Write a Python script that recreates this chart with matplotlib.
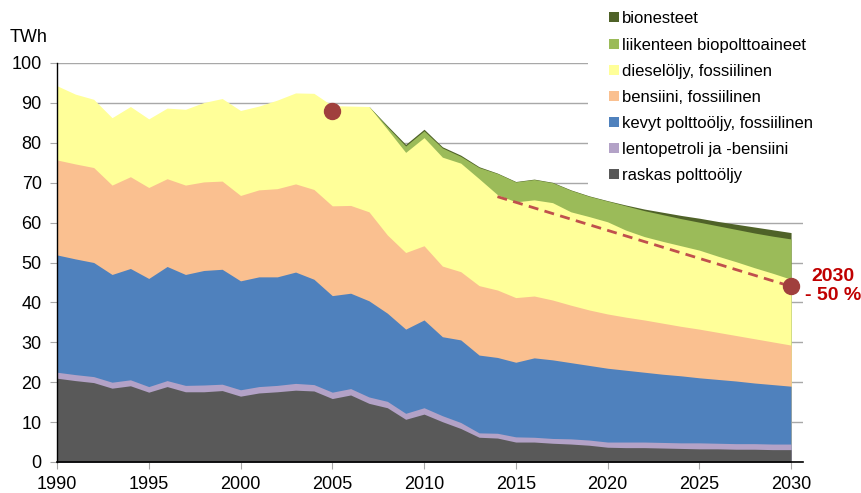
import numpy as np
import matplotlib
matplotlib.use("Agg")
import matplotlib.pyplot as plt
from matplotlib.patches import Patch, Rectangle

plt.rcParams['font.family'] = ['Liberation Sans', 'DejaVu Sans']

years = list(range(1990, 2031))

raskas = [21.0, 20.4, 19.9, 18.5, 19.1, 17.5, 18.9, 17.6, 17.6, 17.9,
          16.5, 17.3, 17.6, 18.0, 17.8, 15.9, 16.8, 14.7, 13.6, 10.7,
          12.0, 10.1, 8.4, 6.2, 6.0, 5.0, 5.0, 4.7, 4.5, 4.2,
          3.7, 3.6, 3.6, 3.5, 3.4, 3.3, 3.3, 3.2, 3.2, 3.1, 3.1]
lento = [1.5, 1.5, 1.5, 1.5, 1.5, 1.4, 1.5, 1.6, 1.7, 1.6,
         1.6, 1.6, 1.6, 1.7, 1.6, 1.6, 1.6, 1.6, 1.6, 1.5,
         1.6, 1.5, 1.5, 1.1, 1.2, 1.3, 1.2, 1.2, 1.3, 1.3,
         1.3, 1.4, 1.4, 1.4, 1.4, 1.5, 1.4, 1.4, 1.4, 1.4, 1.4]
kevyt = [29.4, 29.0, 28.6, 27.0, 27.9, 27.1, 28.6, 27.8, 28.7, 28.8,
         27.3, 27.5, 27.2, 27.9, 26.4, 24.2, 23.9, 24.1, 22.1, 21.1,
         22.0, 19.8, 20.7, 19.5, 19.0, 18.7, 19.9, 19.7, 19.1, 18.7,
         18.5, 18.0, 17.5, 17.1, 16.8, 16.3, 16.0, 15.7, 15.2, 14.9, 14.5]
bensiini = [23.8, 23.8, 23.8, 22.4, 23.0, 22.8, 22.0, 22.4, 22.2, 22.1,
            21.4, 21.8, 22.1, 22.1, 22.5, 22.5, 22.0, 22.3, 19.6, 19.2,
            18.6, 17.7, 17.1, 17.4, 16.9, 16.2, 15.5, 15.0, 14.4, 13.9,
            13.6, 13.3, 13.1, 12.8, 12.4, 12.2, 11.8, 11.4, 11.1, 10.7, 10.3]
diesel = [18.6, 17.5, 17.1, 16.9, 17.6, 17.2, 17.7, 19.0, 19.9, 20.7,
          21.3, 21.0, 22.2, 22.8, 24.1, 25.1, 24.9, 26.4, 26.5, 25.1,
          27.1, 27.3, 27.2, 26.8, 23.9, 24.0, 24.1, 24.4, 23.4, 23.4,
          23.1, 21.8, 20.9, 20.5, 20.2, 19.8, 19.1, 18.5, 17.8, 17.2, 16.5]
bio = [0.0] * 17 + [0.0, 0.6, 1.6,
                    1.7, 2.3, 1.7, 2.8, 5.3, 5.0, 5.1, 5.0, 5.4, 5.1,
                    5.2, 6.1, 6.5, 6.7, 6.8, 7.0, 7.6, 8.1, 8.7, 9.3, 10.1]
bionesteet = [0.0] * 17 + [0.0, 0.3, 0.4,
                           0.4, 0.3, 0.3, 0.2, 0.1, 0.1, 0.1, 0.1, 0.1, 0.1,
                           0.1, 0.2, 0.4, 0.6, 0.8, 1.0, 1.1, 1.3, 1.5, 1.6, 1.6]

labels = ["raskas polttoöljy", "lentopetroli ja -bensiini", "kevyt polttoöljy, fossiilinen",
          "bensiini, fossiilinen", "dieselöljy, fossiilinen", "liikenteen biopolttoaineet",
          "bionesteet"]
colors = ["#595959", "#B3A2C7", "#4F81BD", "#FAC090", "#FFFF99", "#9BBB59", "#4F6228"]

target_years = [2014, 2030]
target_values = [66.5, 44.0]
marker_years = [2005, 2030]
marker_values = [88.0, 44.0]

W, H = 861, 493
fig = plt.figure(figsize=(W / 100, H / 100), dpi=100)
ax = fig.add_axes([57 / W, 31 / H, 746 / W, 399 / H])

series = [raskas, lento, kevyt, bensiini, diesel, bio, bionesteet]
yrs = np.array(years)
cum = np.cumsum(np.array(series), axis=0)
# painter's approach: draw from top layer down
for i in range(len(series) - 1, -1, -1):
    where = None
    if i >= 5:
        where = yrs >= 2007
    ax.fill_between(yrs, 0, cum[i], where=where, color=colors[i], lw=0, zorder=2)

ax.plot(target_years, target_values, color="#C0504D", lw=2.0, dashes=(3.6, 2.3), zorder=4)
ax.plot(marker_years, marker_values, 'o', color="#A0403D", markersize=11.5, zorder=5, clip_on=False)

ax.set_xlim(1990, 2030.65)
ax.set_ylim(0, 100)
ax.set_xticks(range(1990, 2031, 5))
ax.set_yticks(range(0, 101, 10))
ax.yaxis.grid(True, color="#A8A8A8", lw=1.0, zorder=0)
ax.set_axisbelow(True)
for s in ["top", "right"]:
    ax.spines[s].set_visible(False)
ax.spines["left"].set_color("black")
ax.spines["bottom"].set_color("black")
ax.spines["left"].set_linewidth(1.0)
ax.spines["bottom"].set_linewidth(1.2)
ax.spines["left"].set_zorder(6)
ax.spines["bottom"].set_zorder(6)
ax.tick_params(axis="y", direction="out", length=5, color="#A8A8A8", labelsize=13, pad=6)
ax.tick_params(axis="x", direction="out", length=5, color="#A8A8A8", labelsize=13, pad=5)

fig.text(10 / W, 1 - 37 / H, "TWh", fontsize=13, va="center", ha="left")

ax.text(2032.3, 44.0, "2030\n- 50 %", color="#C00000", fontsize=14, fontweight="bold",
        ha="center", va="center", multialignment="center", linespacing=1.15, clip_on=False)

# white box behind legend
fig.patches.append(Rectangle((588 / W, 1 - 190 / H), 1 - 588 / W, 190 / H,
                             transform=fig.transFigure, facecolor="white",
                             edgecolor="none", zorder=3))

handles = [Patch(facecolor=colors[i], edgecolor="none", label=labels[i])
           for i in range(len(labels) - 1, -1, -1)]
leg = fig.legend(handles=handles, loc="upper left",
                 bbox_to_anchor=(601 / W, 1 - 3 / H), frameon=False, fontsize=12,
                 handlelength=0.55, handleheight=0.55, handletextpad=0.22,
                 labelspacing=0.67, borderpad=0.5, borderaxespad=0)
leg.set_zorder(10)

fig.savefig("out.png", dpi=100)
